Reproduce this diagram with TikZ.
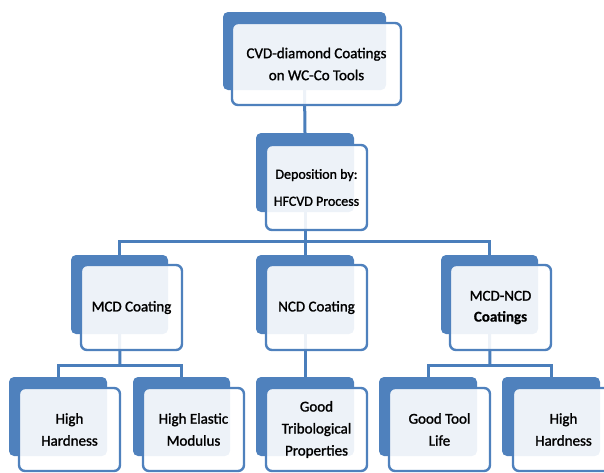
\documentclass[tikz,border=0pt]{standalone}
\usepackage{fontspec}
\setmainfont{Carlito}[FakeBold=1.4, BoldFeatures={FakeBold=0.6}]
\usetikzlibrary{backgrounds}
\definecolor{bl}{HTML}{4F81BD}
\definecolor{ln}{HTML}{4A7EBB}
\tikzset{
  backbox/.style={fill=bl, rounded corners=5pt, inner sep=0pt, draw=none},
  frontbox/.style={draw=bl, line width=2.4pt, fill=white, fill opacity=0.9,
    text opacity=1, rounded corners=6pt, inner sep=0pt, align=center,
    font=\fontsize{15}{22}\selectfont},
  conn/.style={draw=ln, line width=3pt},
}
\begin{document}
\begin{tikzpicture}[x=1pt,y=-1pt]
\useasboundingbox (0,0) rectangle (604,472);
\clip (0,0) rectangle (604,472);
% level 0
\node[backbox, minimum width=163pt, minimum height=78pt] (b-top) at (304.5,51) {};
\node[frontbox, minimum width=169pt, minimum height=82pt] (f-top) at (316.5,64) {CVD-diamond Coatings\\on WC-Co Tools};
% level 1
\node[backbox, minimum width=98pt, minimum height=79pt] (b-dep) at (305,172.5) {};
\node[frontbox, minimum width=101pt, minimum height=85pt, font=\fontsize{14}{27}\selectfont] (f-dep) at (316.5,187.5) {Deposition by:\\HFCVD Process};
% level 2
\node[backbox, minimum width=97pt, minimum height=79pt] (b-mcd) at (119.5,294.5) {};
\node[frontbox, minimum width=101pt, minimum height=85pt] (f-mcd) at (131.5,307.5) {MCD Coating};
\node[backbox, minimum width=98pt, minimum height=79pt] (b-ncd) at (305,294.5) {};
\node[frontbox, minimum width=101pt, minimum height=85pt] (f-ncd) at (316.5,307.5) {NCD Coating};
\node[backbox, minimum width=97pt, minimum height=79pt] (b-mn) at (489.5,294.5) {};
\node[frontbox, minimum width=101pt, minimum height=85pt, font=\fontsize{15}{21}\selectfont] (f-mn) at (500.5,307.5) {MCD-NCD\\\textbf{Coatings}};
% level 3
\node[backbox, minimum width=98pt, minimum height=79pt] (b-hh1) at (58,416.5) {};
\node[frontbox, minimum width=101pt, minimum height=83pt] (f-hh1) at (69.5,429.5) {High\\Hardness};
\node[backbox, minimum width=97pt, minimum height=79pt] (b-hem) at (181.5,416.5) {};
\node[frontbox, minimum width=101pt, minimum height=83pt] (f-hem) at (193.5,429.5) {High Elastic\\Modulus};
\node[backbox, minimum width=98pt, minimum height=79pt] (b-gtp) at (305,416.5) {};
\node[frontbox, minimum width=101pt, minimum height=83pt] (f-gtp) at (316.5,429.5) {Good\\Tribological\\Properties};
\node[backbox, minimum width=98pt, minimum height=79pt] (b-gtl) at (428,416.5) {};
\node[frontbox, minimum width=101pt, minimum height=83pt] (f-gtl) at (439.5,429.5) {Good Tool\\Life};
\node[backbox, minimum width=98pt, minimum height=79pt] (b-hh2) at (551,416.5) {};
\node[frontbox, minimum width=101pt, minimum height=83pt] (f-hh2) at (563.5,429.5) {High\\Hardness};
% bus coordinates
\coordinate (bus1) at (305,241);
\coordinate (bus2) at (120,365);
\coordinate (bus3) at (490,365);
\begin{pgfonlayer}{background}
\draw[conn] (b-top.south) -- (b-dep.north);
\draw[conn] (b-dep.south) -- (b-ncd.north);
\draw[conn] (b-mcd.north) |- (bus1) -| (b-mn.north);
\draw[conn] (b-mcd.south) -- (bus2);
\draw[conn] (b-hh1.north) |- (bus2) -| (b-hem.north);
\draw[conn] (b-ncd.south) -- (b-gtp.north);
\draw[conn] (b-mn.south) -- (bus3);
\draw[conn] (b-gtl.north) |- (bus3) -| (b-hh2.north);
\end{pgfonlayer}
\end{tikzpicture}
\end{document}
